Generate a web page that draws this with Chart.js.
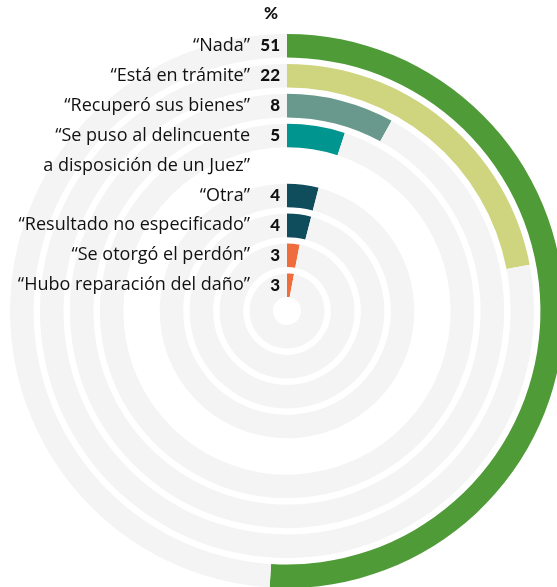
<!DOCTYPE html>
<html lang="es">
<head>
<meta charset="utf-8">
<script src="https://cdn.jsdelivr.net/npm/chart.js@4/dist/chart.umd.min.js"></script>
<style>
  html, body { margin: 0; padding: 0; background: #fff; }
  #contenedor { position: relative; width: 557px; height: 587px; overflow: hidden; }
  #grafico { position: absolute; left: 0; top: 0; }
</style>
</head>
<body>
<div id="contenedor">
  <canvas id="grafico" width="574" height="640"></canvas>
</div>
<script>
  // Respuestas (una línea por anillo; la cuarta ocupa dos anillos)
  var categorias = [
    ['“Nada”'],
    ['“Está en trámite”'],
    ['“Recuperó sus bienes”'],
    ['“Se puso al delincuente', 'a disposición de un Juez”'],
    ['“Otra”'],
    ['“Resultado no especificado”'],
    ['“Se otorgó el perdón”'],
    ['“Hubo reparación del daño”']
  ];
  var porcentajes = [51, 22, 8, 5, 4, 4, 3, 3];
  var colores = ['#4f9b37', '#cfd57f', '#68998c', '#00968f', '#0f4c5c', '#0f4c5c', '#ef6c3d', '#ef6c3d'];

  var FONDO = '#f4f4f4';
  var GROSOR_ESPACIO = 0.27;

  // Se arma un anillo por categoría, más un anillo vacío para la segunda línea
  // del texto largo, y anillos transparentes delgados como separación.
  var datasets = [];
  var anilloDe = []; // índice de dataset donde empieza cada categoría
  function separador() {
    datasets.push({ data: [100], backgroundColor: ['rgba(0,0,0,0)'], weight: GROSOR_ESPACIO, borderWidth: 0 });
  }
  categorias.forEach(function (cat, i) {
    if (datasets.length) separador();
    anilloDe.push(datasets.length);
    datasets.push({
      data: [porcentajes[i], 100 - porcentajes[i]],
      backgroundColor: [colores[i], FONDO],
      weight: 1,
      borderWidth: 0
    });
    for (var k = 1; k < cat.length; k++) {
      separador();
      datasets.push({ data: [0, 100], backgroundColor: ['rgba(0,0,0,0)', 'rgba(0,0,0,0)'], weight: 1, borderWidth: 0 });
    }
  });

  var etiquetas = {
    id: 'etiquetas',
    afterDatasetsDraw: function (chart) {
      var ctx = chart.ctx;
      ctx.save();
      ctx.textBaseline = 'middle';
      ctx.fillStyle = '#111';
      var cx = 0;
      categorias.forEach(function (cat, i) {
        cat.forEach(function (linea, k) {
          var arco = chart.getDatasetMeta(anilloDe[i] + k * 2).data[0];
          var y = arco.y - (arco.innerRadius + arco.outerRadius) / 2;
          cx = arco.x;
          ctx.textAlign = 'right';
          ctx.font = '18px "Open Sans"';
          ctx.fillText(linea, arco.x - 37, y);
          if (k === 0) {
            ctx.font = '900 17px Lato';
            ctx.fillText(String(porcentajes[i]), arco.x - 7, y);
          }
        });
      });
      ctx.textAlign = 'center';
      ctx.font = '900 17px Lato';
      ctx.fillText('%', cx - 16, 14);
      ctx.restore();
    }
  };

  new Chart(document.getElementById('grafico'), {
    type: 'doughnut',
    data: { datasets: datasets },
    options: {
      responsive: false,
      animation: false,
      cutout: 14,
      layout: { padding: { left: 10, right: 10, top: 34, bottom: 52 } },
      plugins: { legend: { display: false }, tooltip: { enabled: false } }
    },
    plugins: [etiquetas]
  });
</script>
</body>
</html>
